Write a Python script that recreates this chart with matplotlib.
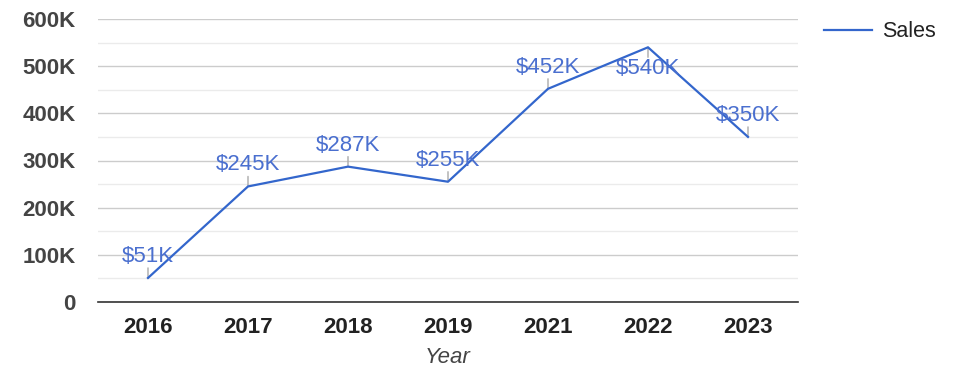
import matplotlib
matplotlib.use("Agg")
import matplotlib.pyplot as plt
from matplotlib.ticker import MultipleLocator, FuncFormatter

years = ["2016", "2017", "2018", "2019", "2021", "2022", "2023"]
sales = [51000, 245000, 287000, 255000, 452000, 540000, 350000]
labels = ["$51K", "$245K", "$287K", "$255K", "$452K", "$540K", "$350K"]
label_below = [False, False, False, False, False, True, False]

plt.rcParams['font.family'] = ['Liberation Sans', 'DejaVu Sans']

fig = plt.figure(figsize=(9.75, 3.78), dpi=100)
ax = fig.add_axes([98/975, 76/378, 700/975, 283/378])

line_color = "#3366cc"
x = list(range(len(years)))
ax.plot(x, sales, color=line_color, lw=1.6, label="Sales", zorder=3)

for xi, v, lab, below in zip(x, sales, labels, label_below):
    sgn = -1 if below else 1
    ax.annotate('', xy=(xi, v), xytext=(0, 10 * sgn), textcoords='offset pixels',
                arrowprops=dict(arrowstyle='-', color='#aaaaaa', lw=1,
                                shrinkA=0, shrinkB=0), zorder=2)
    ax.annotate(lab, xy=(xi, v), xytext=(0, 21.5 * sgn), textcoords='offset pixels',
                ha='center', va='center', fontsize=16, color='#4a6fcf', zorder=4)

ax.set_xlim(-0.5, len(years) - 0.5)
ax.set_ylim(0, 600000)
ax.yaxis.set_major_locator(MultipleLocator(100000))
ax.yaxis.set_minor_locator(MultipleLocator(50000))
ax.yaxis.set_major_formatter(FuncFormatter(lambda v, p: "0" if v == 0 else f"{int(v/1000)}K"))
ax.grid(axis='y', which='major', color='#cccccc', lw=1, zorder=0)
ax.grid(axis='y', which='minor', color='#ebebeb', lw=1, zorder=0)
ax.set_axisbelow(True)

ax.set_xticks(x)
ax.set_xticklabels(years)
for s in ['top', 'right', 'left']:
    ax.spines[s].set_visible(False)
ax.spines['bottom'].set_color('#333333')
ax.spines['bottom'].set_linewidth(1.2)

ax.tick_params(axis='y', which='both', length=0, pad=16, labelsize=16, labelcolor='#444444')
ax.tick_params(axis='x', length=0, pad=10.5, labelsize=16, labelcolor='#222222')
for t in ax.get_yticklabels() + ax.get_xticklabels():
    t.set_fontweight('bold')

ax.set_xlabel("Year", fontsize=16, fontstyle='italic', color='#444444', labelpad=7)

leg = ax.legend(loc='upper left', bbox_to_anchor=(1.01, 1.06), frameon=False,
                fontsize=15.5, handlelength=2.2, handletextpad=0.5, labelcolor='#222222')

fig.savefig("out.png", dpi=100, facecolor='white')
